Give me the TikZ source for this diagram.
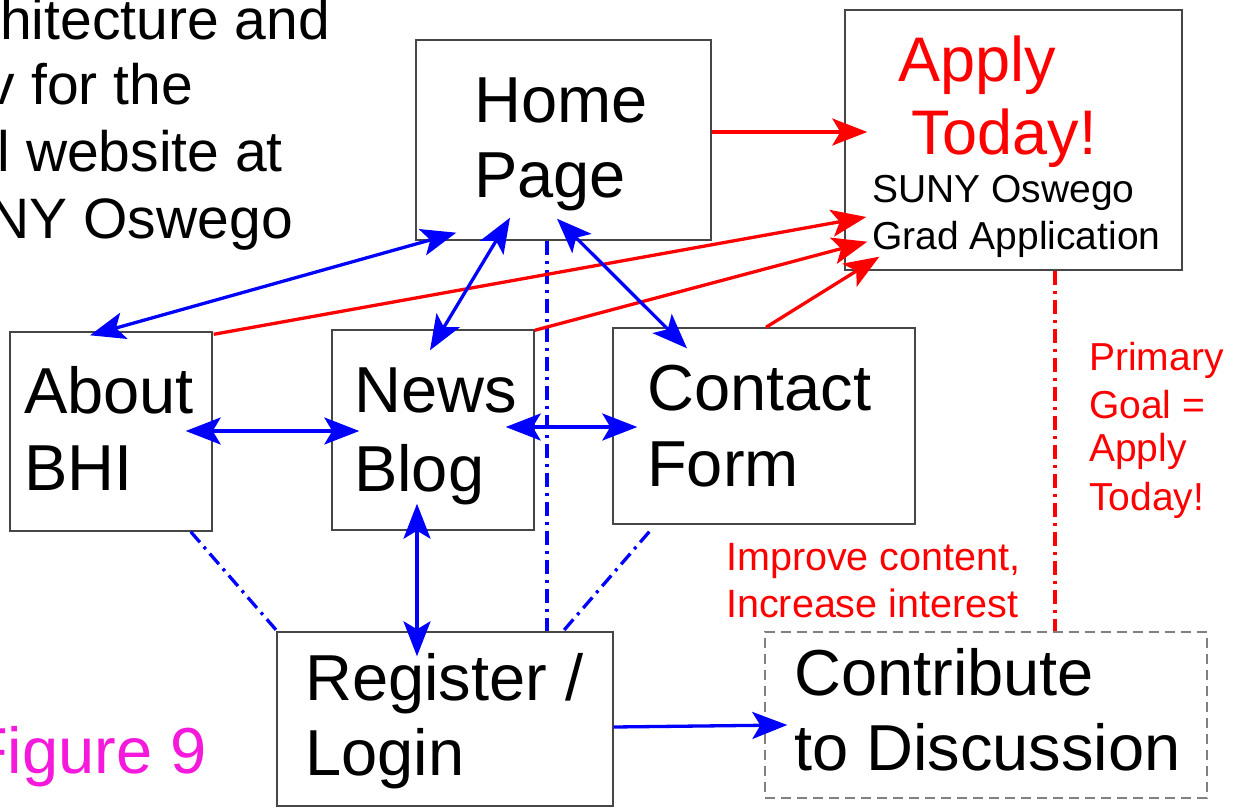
\documentclass[tikz,border=0pt]{standalone}
\usepackage{fontspec}
\setmainfont{Liberation Sans}
\usetikzlibrary{arrows.meta,calc}
\definecolor{boxgray}{RGB}{70,70,70}
\definecolor{myblue}{RGB}{0,0,255}
\definecolor{myred}{RGB}{255,0,0}
\definecolor{figmag}{RGB}{245,25,220}
\tikzset{
  box/.style={draw=boxgray, line width=1.4pt, rectangle, inner sep=0pt},
  dbox/.style={box, draw=gray, dash pattern=on 10pt off 6pt},
  bl/.style={draw=myblue, line width=3.3pt},
  rd/.style={draw=myred, line width=3.3pt},
  dashdot/.style={dash pattern=on 14pt off 6pt on 3pt off 6pt},
  txt/.style={inner sep=0pt, anchor=base west},
  boxtxt/.style={txt, font=\fontsize{65}{75}\selectfont},
  titletxt/.style={inner sep=0pt, anchor=base east, font=\fontsize{57}{65}\selectfont},
  bigred/.style={txt, text=myred, font=\fontsize{63}{72}\selectfont},
  smallblack/.style={txt, font=\fontsize{39}{45}\selectfont},
  smallred/.style={txt, text=myred, font=\fontsize{39}{45}\selectfont},
  notered/.style={txt, text=myred, font=\fontsize{39.5}{45}\selectfont},
}
\begin{document}
\begin{tikzpicture}[x=1pt, y=-1pt, >={Stealth[length=35pt,width=27pt,inset=8pt]}]
\useasboundingbox (0,0) rectangle (1238,810);
\clip (0,0) rectangle (1238,810);
\fill[white] (0,0) rectangle (1238,810);

% title (cut off at the left edge)
\node[titletxt] (t1) at (330,40) {hitecture and};
\node[titletxt] (t2) at (193,105) {v for the};
\node[titletxt] (t3) at (283,172) {l website at};
\node[titletxt] (t4) at (293,238) {NY Oswego};
\node[txt, text=figmag, font=\fontsize{65}{74}\selectfont] (fig) at (-32,773) {Figure 9};

% boxes
\node[box, minimum width=295pt, minimum height=200pt] (home) at (563.5,140) {};
\node[box, minimum width=337pt, minimum height=260pt] (apply) at (1013.5,140) {};
\node[box, minimum width=202pt, minimum height=199pt] (about) at (111,431.5) {};
\node[box, minimum width=202pt, minimum height=200pt] (news) at (433,430) {};
\node[box, minimum width=302pt, minimum height=196pt] (contact) at (764,426) {};
\node[box, minimum width=336pt, minimum height=174pt] (reg) at (445,719) {};
\node[dbox, minimum width=442pt, minimum height=166pt] (contrib) at (986,715) {};

% box texts
\node[boxtxt] (home1) at (474,123) {Home};
\node[boxtxt] (home2) at (474,198) {Page};
\node[boxtxt] (about1) at (24,413) {About};
\node[boxtxt] (about2) at (24,490) {BHI};
\node[boxtxt] (news1) at (354,412) {News};
\node[boxtxt] (news2) at (354,491) {Blog};
\node[boxtxt] (cont1) at (647,410) {Contact};
\node[boxtxt] (cont2) at (647,486) {Form};
\node[boxtxt] (reg1) at (305,700) {Register /};
\node[boxtxt] (reg2) at (305,775) {Login};
\node[boxtxt] (con1) at (794,695) {Contribute};
\node[boxtxt] (con2) at (794,770) {to Discussion};

% texts of the application box
\node[bigred] (ap1) at (898,82) {Apply};
\node[bigred] (ap2) at (911,155) {Today!};
\node[smallblack] (su1) at (872,203) {SUNY Oswego};
\node[smallblack] (su2) at (872,249) {Grad Application};

% notes
\node[smallred] (pg1) at (1089,370) {Primary};
\node[smallred] (pg2) at (1089,418) {Goal =};
\node[smallred] (pg3) at (1089,461) {Apply};
\node[smallred] (pg4) at (1089,510) {Today!};
\node[notered] (im1) at (726,570) {Improve content,};
\node[notered] (im2) at (726,617) {Increase interest};

% dash-dot links
\draw[bl, dashdot] ($(about.south east)+(-22,0)$) -- ($(reg.north west)+(1,0)$);
\draw[bl, dashdot] ($(home.south)+(-16.5,0)$) -- ($(reg.north)+(102,0)$);
\draw[bl, dashdot] ($(contact.south west)+(37,7)$) -- ($(reg.north)+(118,0)$);
\draw[rd, dashdot] ($(apply.south)+(41.5,0)$) -- ($(contrib.north)+(69,0)$);

% red arrows to the application
\draw[rd, ->] ($(home.east)+(0,-8)$) -- ($(apply.west)+(23,-8)$);
\draw[rd, ->] ($(about.north east)+(1,3)$) -- ($(apply.west)+(22,77)$);
\draw[rd, ->] ($(news.north east)+(0,1)$) -- ($(apply.south west)+(23,-29)$);
\draw[rd, ->] ($(contact.north)+(2,0)$) -- ($(apply.south west)+(35,-14)$);

% blue arrows
\draw[bl, <->] ($(about.north)+(-21,4)$) -- ($(home.south west)+(41,-8)$);
\draw[bl, <->] ($(news.north)+(-3,21)$) -- ($(home.south)+(-53.5,-23)$);
\draw[bl, <->] ($(home.south)+(-6.5,-22)$) -- ($(contact.north)+(-77,21)$);
\draw[bl, <->] ($(about.east)+(-27,-0.5)$) -- ($(news.west)+(28,1)$);
\draw[bl, <->] ($(news.east)+(-29,-3)$) -- ($(contact.west)+(25,1)$);
\draw[bl, <->] ($(news.south)+(-16,-27)$) -- ($(reg.north)+(-28,25)$);
\draw[bl, ->] ($(reg.east)+(0,8)$) -- ($(contrib.west)+(23,10)$);
\end{tikzpicture}
\end{document}
